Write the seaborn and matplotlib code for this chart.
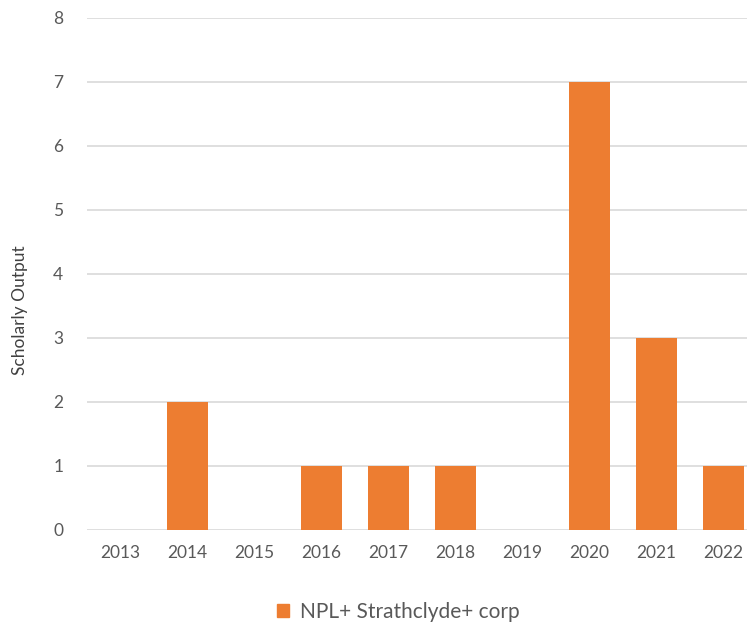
import matplotlib
matplotlib.use("Agg")
import matplotlib.pyplot as plt
import seaborn as sns
import pandas as pd

years = ["2013", "2014", "2015", "2016", "2017", "2018", "2019", "2020", "2021", "2022"]
output = [0, 2, 0, 1, 1, 1, 0, 7, 3, 1]
series_name = "NPL+ Strathclyde+ corp"

df = pd.DataFrame({"year": years, "output": output, "series": series_name})

sns.set_style("white")
plt.rcParams["font.family"] = ["Lato", "DejaVu Sans"]

fig = plt.figure(figsize=(7.47, 6.24), dpi=100)
ax = fig.add_axes([87 / 747, 1 - 530 / 624, 1 - 87 / 747, (530 - 17.5) / 624])

sns.barplot(data=df, x="year", y="output", hue="series", palette=["#ED7D31"],
            saturation=1, width=0.61, linewidth=0, ax=ax, legend=False)

ax.set_ylim(0, 8)
ax.set_xlim(-0.5, (747 - 87) / 67 - 0.5)
ax.set_yticks(range(0, 9))
ax.yaxis.grid(True, color="#D9D9D9", linewidth=1.2)
ax.set_axisbelow(True)
for s in ax.spines.values():
    s.set_visible(False)
ax.tick_params(axis="both", length=0, labelsize=12.5, colors="#595959")
ax.tick_params(axis="y", pad=17)
ax.tick_params(axis="x", pad=11)
ax.set_xlabel("")
ax.set_ylabel("")
fig.text(20 / 747, 1 - 310 / 624, "Scholarly Output", rotation=90, ha="center",
         va="center", fontsize=12.5, color="#404040")

handle = plt.Rectangle((0, 0), 1, 1, color="#ED7D31")
fig.legend([handle], [series_name], loc="center", bbox_to_anchor=(398 / 747, 1 - 612 / 624),
           frameon=False, fontsize=15, labelcolor="#595959", handlelength=0.6,
           handleheight=0.6, handletextpad=0.5)

fig.savefig("out.png", dpi=100)
